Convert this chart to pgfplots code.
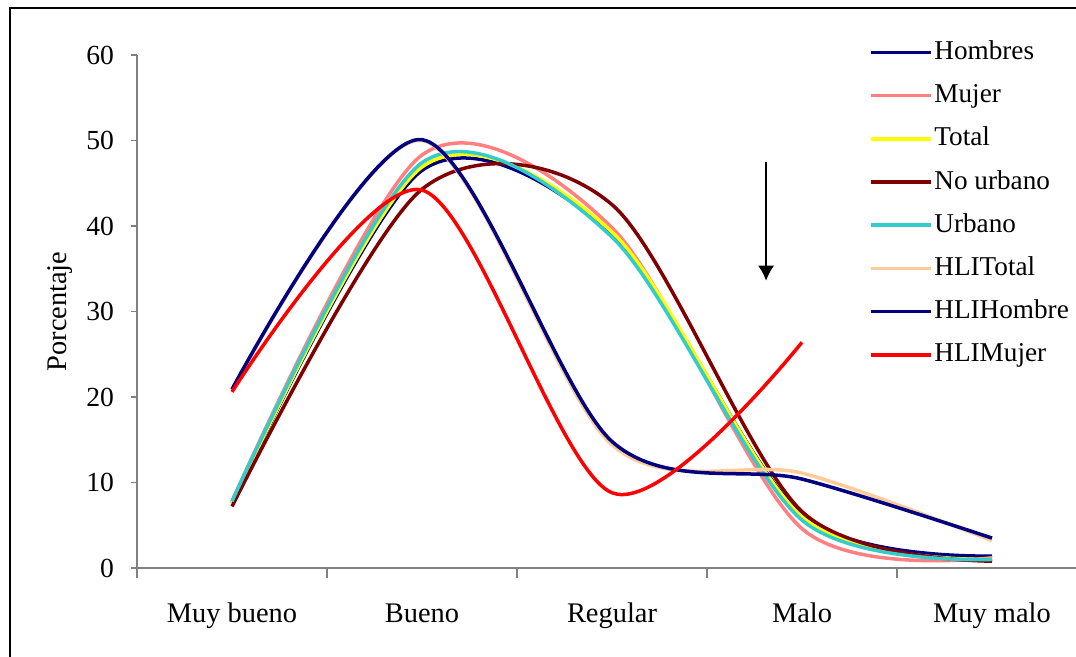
\documentclass[border=0pt]{standalone}
\usepackage{fontspec}
\setmainfont{Liberation Serif}
\usepackage{pgfplots}
\pgfplotsset{compat=1.18}
\usetikzlibrary{arrows.meta}

\definecolor{cNavy}{HTML}{000080}
\definecolor{cPink}{HTML}{FF8080}
\definecolor{cYellow}{HTML}{FFFF00}
\definecolor{cMaroon}{HTML}{800000}
\definecolor{cTurq}{HTML}{33CCCC}
\definecolor{cPeach}{HTML}{FFCC99}
\definecolor{cRed}{HTML}{FF0000}
\definecolor{cAxis}{HTML}{808080}

\begin{document}
\begin{tikzpicture}
% page = 1076 x 657 px at 0.5pt per px
\path[use as bounding box] (0,0) rectangle (538pt,328.5pt);
\draw[black, line width=0.8pt] (5pt,-20pt) rectangle (560pt,324.5pt);
\begin{axis}[
    at={(68.5pt,44.5pt)}, anchor=south west,
    scale only axis,
    width=475pt, height=256.5pt,
    xmin=0.5, xmax=5.5,
    ymin=0, ymax=60,
    axis x line=bottom, axis y line=left,
    axis line style={cAxis, line width=0.75pt, -},
    xtick={1,2,3,4,5},
    xticklabels={Muy bueno,Bueno,Regular,Malo,Muy malo},
    minor xtick={0.5,1.5,2.5,3.5,4.5,5.5},
    ytick={0,10,20,30,40,50,60},
    tick align=outside,
    major tick length=3pt,
    minor tick length=5pt,
    major x tick style={draw=none},
    every tick/.style={cAxis, line width=0.75pt},
    tick label style={font=\fontsize{13.8}{16}\selectfont, /pgf/number format/assume math mode=true},
    xticklabel style={anchor=base, yshift=-24.5pt, font=\fontsize{14.2}{16}\selectfont},
    yticklabel style={xshift=-5pt},
    ylabel={Porcentaje},
    ylabel style={at={(axis description cs:-0.081,0.5)}, anchor=center, font=\fontsize{14.2}{16}\selectfont},
    legend style={draw=none, fill=none, inner sep=0pt,
        at={(axis description cs:0.770,1.035)}, anchor=north west,
        font=\fontsize{13.6}{16}\selectfont,
        row sep=6.6pt,
        nodes={inner sep=1pt, text height=10pt, text depth=3pt}},
    legend cell align=left,
    legend image code/.code={\draw[#1] (0pt,0pt) -- (30pt,0pt);},
    every axis plot/.append style={smooth, tension=0.5, line width=1.75pt, mark=none},
]
\addplot[cNavy] coordinates {(1,7.6) (2,46.5) (3,39.0) (4,6.2) (5,1.4)};
\addplot[cPink] coordinates {(1,7.8) (2,48.3) (3,39.8) (4,4.6) (5,1.2)};
\addplot[cYellow] coordinates {(1,7.6) (2,46.9) (3,39.3) (4,6.0) (5,1.0)};
\addplot[cMaroon] coordinates {(1,7.2) (2,44.3) (3,42.5) (4,6.6) (5,0.8)};
\addplot[cTurq] coordinates {(1,7.8) (2,47.4) (3,38.7) (4,5.6) (5,1.0)};
\addplot[cPeach] coordinates {(1,20.8) (2,50.0) (3,14.4) (4,11.1) (5,3.2)};
\addplot[cNavy] coordinates {(1,20.9) (2,50.1) (3,14.8) (4,10.4) (5,3.5)};
\addplot[cRed] coordinates {(1,20.6) (2,44.2) (3,8.8) (4,26.4)};
\legend{Hombres,Mujer,Total,No urbano,Urbano,HLITotal,HLIHombre,HLIMujer}
\draw[black, line width=0.75pt, -{Latex[length=7.5pt,width=8pt]}] (axis cs:3.811,47.5) -- (axis cs:3.811,33.6);
\end{axis}
\end{tikzpicture}
\end{document}
